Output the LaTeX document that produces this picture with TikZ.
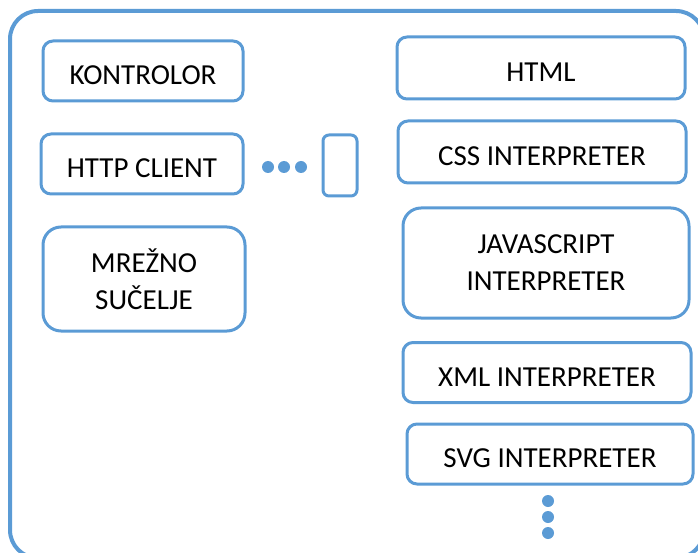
\documentclass[tikz,border=0pt]{standalone}
\usepackage{fontspec}
\setmainfont{Carlito}
\usepackage{tikz}
\definecolor{okvir}{HTML}{5B9BD5}
\newcommand{\visina}{\rule{0pt}{27pt}}

\begin{document}
\begin{tikzpicture}[x=1pt,y=-1pt,
    kutija/.style={draw=okvir,line width=3pt,rounded corners=10pt,
      inner sep=0pt,align=center,font=\fontsize{29}{37}\selectfont,
      execute at begin node=\visina},
    velika/.style={kutija,rounded corners=18pt},
    tocka/.style={fill=okvir}]
  \useasboundingbox (0,0) rectangle (698,553);
  \clip (0,0) rectangle (698,553);
  % vanjski okvir
  \draw[okvir,line width=4pt,rounded corners=28pt]
    (10,11)
    rectangle
    (704,558);
  % lijevi stupac
  \node[kutija,minimum width=200pt,minimum height=60pt] (kontrolor)
    at (143,71) {KONTROLOR};
  \node[kutija,minimum width=202pt,minimum height=60pt] (httpclient)
    at (142,164) {HTTP CLIENT};
  \node[velika,minimum width=202pt,minimum height=104pt] (mreza)
    at (144,279) {MREŽNO\\SUČELJE};
  \fill[tocka] (268,167) circle (6pt);
  \fill[tocka] (284,167) circle (6pt);
  \fill[tocka] (301,167) circle (6pt);
  \node[kutija,rounded corners=6pt,minimum width=34pt,minimum height=61pt] (veza)
    at (340,165.5) {};
  % desni stupac
  \node[kutija,minimum width=288pt,minimum height=62pt] (html)
    at (541,68) {HTML};
  \node[kutija,minimum width=288pt,minimum height=62pt] (css)
    at (542,152) {CSS INTERPRETER};
  \node[velika,minimum width=286pt,minimum height=110pt] (js)
    at (546,263) {JAVASCRIPT\\INTERPRETER};
  \node[kutija,minimum width=288pt,minimum height=60pt] (xml)
    at (547,372.5) {XML INTERPRETER};
  \node[kutija,minimum width=286pt,minimum height=60pt] (svg)
    at (550,454) {SVG INTERPRETER};
  \fill[tocka] (548,501) circle (6pt);
  \fill[tocka] (548,517) circle (6pt);
  \fill[tocka] (548,533) circle (6pt);
\end{tikzpicture}
\end{document}
